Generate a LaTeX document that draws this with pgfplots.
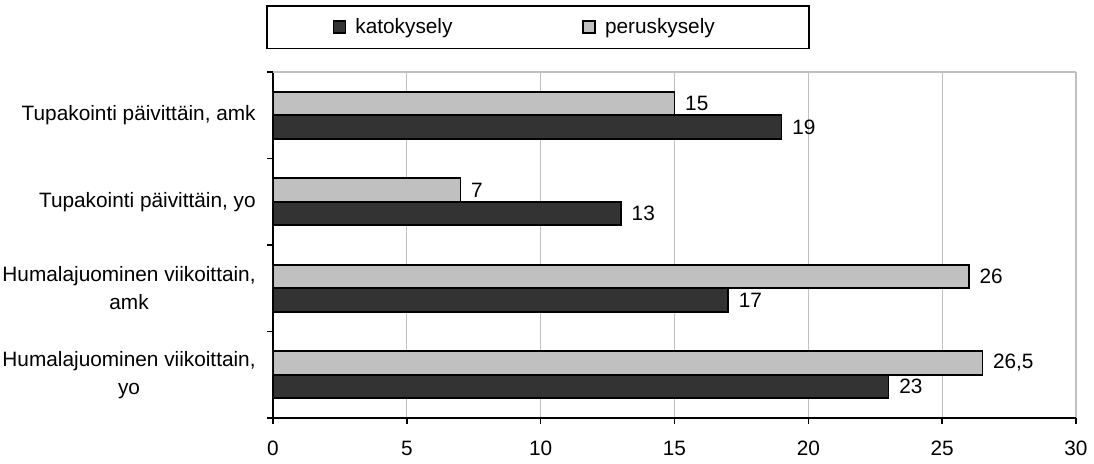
\documentclass[border=0pt]{standalone}
\usepackage{fontspec}
\setmainfont{Liberation Sans}
\usepackage{pgfplots}
\pgfplotsset{compat=1.18}

\definecolor{dark}{HTML}{333333}
\definecolor{light}{HTML}{C0C0C0}
\definecolor{gridgray}{HTML}{C0C0C0}

\begin{document}
\fontsize{10.4bp}{12.5bp}\selectfont
\begin{tikzpicture}
\begin{axis}[
    at={(0,0)}, anchor=south west,
    scale only axis,
    width=401.5bp, height=173bp,
    xbar, bar width=11.75bp,
    xmin=0, xmax=30,
    ymin=-0.5, ymax=3.5,
    xtick={0,5,...,30},
    ytick={0,1,2,3},
    yticklabels={{Humalajuominen viikoittain,\\yo},
                 {Humalajuominen viikoittain,\\amk},
                 {Tupakointi päivittäin, yo},
                 {Tupakointi päivittäin, amk}},
    minor ytick={-0.5,0.5,1.5,2.5,3.5},
    axis lines*=left,
    axis line style={line width=1bp, black},
    tick align=outside,
    major x tick style={line width=0.8bp, black},
    major y tick style={draw=none},
    minor y tick style={line width=0.8bp, black},
    major tick length=3bp,
    minor tick length=3bp,
    xmajorgrids=true,
    grid style={gridgray, line width=0.6bp},
    tick label style={font=\fontsize{10.4bp}{12.5bp}\selectfont},
    /pgf/number format/assume math mode=true,
    yticklabel style={align=center, font=\fontsize{10.4bp}{14bp}\selectfont, xshift=-2bp},
    xticklabel style={yshift=-5bp},
    nodes near coords,
    point meta=explicit symbolic,
    nodes near coords style={font=\fontsize{10.4bp}{12.5bp}\selectfont, anchor=west, xshift=1.5bp},
    legend columns=2,
    legend style={at={(-0.0087,1.066)}, anchor=south west,
        draw=black, line width=0.8bp,
        inner xsep=33bp, inner ysep=4bp,
        /tikz/every even column/.append style={column sep=44.5bp},
        nodes={text width=67bp, align=left, inner sep=2bp},
        font=\fontsize{10.4bp}{12.5bp}\selectfont},
    legend image code/.code={\draw[#1, line width=0.8bp] (0bp,-3bp) rectangle (6bp,3bp);
        \path (8.5bp,0bp);},
    after end axis/.code={\draw[gridgray, line width=0.6bp] (rel axis cs:0,1) -- (rel axis cs:1,1);},
]
\addplot[fill=dark, draw=black, line width=0.8bp, bar shift=-5.875bp]
    coordinates {(23,0) [23] (17,1) [17] (13,2) [13] (19,3) [19]};
\addlegendentry{katokysely}
\addplot[fill=light, draw=black, line width=0.8bp, bar shift=5.875bp]
    coordinates {(26.5,0) [{26,5}] (26,1) [26] (7,2) [7] (15,3) [15]};
\addlegendentry{peruskysely}
\end{axis}
\pgfresetboundingbox
\path[use as bounding box] (-136.5bp,-23bp) rectangle (410.5bp,209bp);
\end{tikzpicture}
\end{document}
